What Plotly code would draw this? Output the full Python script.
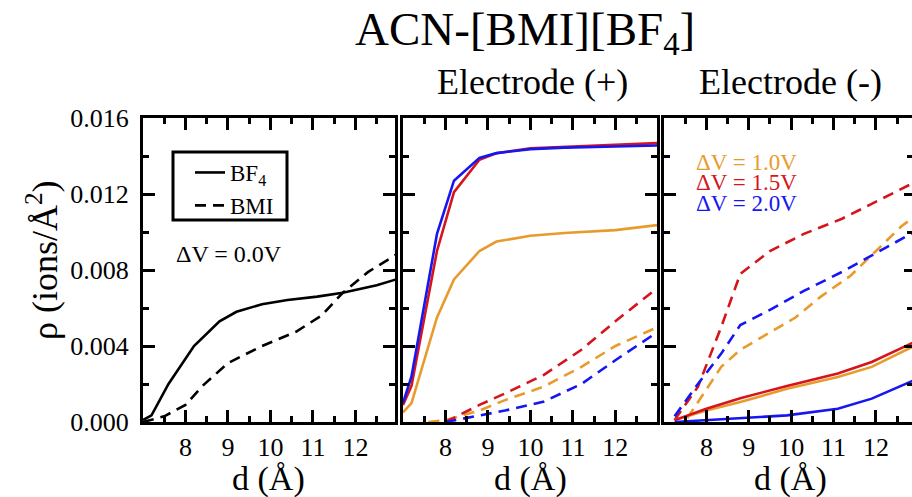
import plotly.graph_objects as go

# ---------------- data ----------------
# Panel 1: dV = 0.0 V
x0_bf4 = [7.0, 7.2, 7.6, 8.2, 8.8, 9.2, 9.8, 10.4, 11.1, 11.7, 12.5, 12.95]
y0_bf4 = [0.0001, 0.00035, 0.0020, 0.0040, 0.0053, 0.0058, 0.0062, 0.00642, 0.0066, 0.0068, 0.0072, 0.0075]
x0_bmi = [7.0, 7.5, 8.0, 8.4, 9.0, 9.8, 10.6, 11.2, 11.7, 12.3, 12.95]
y0_bmi = [0.0, 0.0003, 0.0009, 0.0019, 0.0031, 0.0040, 0.00475, 0.0056, 0.0068, 0.0079, 0.0088]

# Panel 2: Electrode (+)
xp_bf4 = [7.0, 7.2, 7.8, 8.2, 8.8, 9.2, 10.0, 10.8, 12.0, 13.0]
yp_bf4_10 = [0.0005, 0.0010, 0.0055, 0.0075, 0.0090, 0.0095, 0.0098, 0.00995, 0.0101, 0.01037]
yp_bf4_15 = [0.0009, 0.0019, 0.0090, 0.0121, 0.0138, 0.01415, 0.0144, 0.01448, 0.01458, 0.01468]
yp_bf4_20 = [0.0010, 0.0024, 0.0099, 0.0127, 0.0139, 0.01415, 0.01436, 0.01444, 0.0145, 0.01455]
xp_bmi = [7.6, 8.0, 8.8, 9.4, 10.3, 11.2, 12.0, 12.9]
yp_bmi_10 = [0.0, 0.0001, 0.0006, 0.00115, 0.00185, 0.0029, 0.0040, 0.0049]
yp_bmi_15 = [None, 0.0, 0.0009, 0.0015, 0.00246, 0.0038, 0.0053, 0.0069]
yp_bmi_20 = [None, 0.0, 0.00035, 0.0006, 0.00106, 0.0020, 0.00325, 0.0046]

# Panel 3: Electrode (-)
xn_bf4 = [7.25, 8.0, 8.8, 9.9, 11.1, 11.9, 12.9]
yn_bf4_10 = [0.0001, 0.0006, 0.00105, 0.00175, 0.00237, 0.0029, 0.0040]
yn_bf4_15 = [0.0001, 0.0007, 0.00125, 0.0019, 0.00255, 0.00316, 0.0042]
yn_bf4_20 = [0.0, 0.0001, 0.00018, 0.00035, 0.0007, 0.00123, 0.0022]
xn_bmi = [7.25, 7.8, 8.35, 8.8, 9.5, 10.3, 11.2, 12.0, 12.9]
yn_bmi_15 = [0.0001, 0.00185, 0.0050, 0.0078, 0.0090, 0.0099, 0.0107, 0.0116, 0.0126]
yn_bmi_20 = [0.0003, 0.0020, 0.0036, 0.0051, 0.0059, 0.0069, 0.0079, 0.0089, 0.0100]
xn_bmi_10 = [7.55, 8.0, 8.35, 8.8, 9.5, 10.1, 10.7, 11.4, 12.0, 12.6, 12.9]
yn_bmi_10 = [0.0002, 0.0017, 0.0029, 0.0038, 0.0047, 0.0055, 0.0066, 0.0077, 0.0090, 0.0103, 0.0108]

x_ticks = [8, 9, 10, 11, 12]
x_minor = [7.5, 8.5, 9.5, 10.5, 11.5, 12.5]
y_ticks = [0.0, 0.004, 0.008, 0.012, 0.016]
y_minor = [0.002, 0.006, 0.010, 0.014]
dv_labels = ["ΔV = 1.0V", "ΔV = 1.5V", "ΔV = 2.0V"]

ORANGE = "#E89B2C"
RED = "#D5141C"
BLUE = "#1616F2"
FONT = "'Liberation Serif', 'Times New Roman', Times, serif"
W, H = 912, 497

def fx(px):
    return px / W

def fy(py):
    return 1 - py / H

DASH = "11px,7px"
fig = go.Figure()

def line(x, y, xa, ya, color, dash=None, name=None, show=False, width=2.6):
    fig.add_trace(go.Scatter(
        x=x, y=y, xaxis=xa, yaxis=ya, mode="lines", name=name,
        showlegend=show, hoverinfo="skip", connectgaps=False,
        line=dict(color=color, width=width, dash=dash or "solid"),
    ))

# panel 1
line(x0_bf4, y0_bf4, "x", "y", "black", None, "BF<sub>4</sub>", True)
line(x0_bmi, y0_bmi, "x", "y", "black", DASH, "BMI", True)
# panel 2
line(xp_bmi, yp_bmi_10, "x2", "y2", ORANGE, DASH)
line(xp_bmi, yp_bmi_15, "x2", "y2", RED, DASH)
line(xp_bmi, yp_bmi_20, "x2", "y2", BLUE, DASH)
line(xp_bf4, yp_bf4_10, "x2", "y2", ORANGE)
line(xp_bf4, yp_bf4_15, "x2", "y2", RED)
line(xp_bf4, yp_bf4_20, "x2", "y2", BLUE)
# panel 3
line(xn_bmi_10, yn_bmi_10, "x3", "y3", ORANGE, DASH)
line(xn_bmi, yn_bmi_15, "x3", "y3", RED, DASH)
line(xn_bmi, yn_bmi_20, "x3", "y3", BLUE, DASH)
line(xn_bf4, yn_bf4_10, "x3", "y3", ORANGE)
line(xn_bf4, yn_bf4_15, "x3", "y3", RED)
line(xn_bf4, yn_bf4_20, "x3", "y3", BLUE)
# invisible trace for right-edge tick axis of panel 3
fig.add_trace(go.Scatter(x=[None], y=[None], xaxis="x3", yaxis="y4",
                         showlegend=False, hoverinfo="skip"))

tickfont = dict(family=FONT, size=26, color="black")

def xaxis(domain, rng, anchor):
    return dict(
        domain=domain, range=rng, anchor=anchor, automargin=False,
        showline=True, linewidth=3, linecolor="black", mirror="ticks",
        ticks="inside", ticklen=12, tickwidth=3, tickcolor="black",
        tickmode="array", tickvals=x_ticks, ticktext=[str(v) for v in x_ticks],
        tickfont=tickfont, showgrid=False, zeroline=False,
        minor=dict(ticks="inside", ticklen=6, tickwidth=2.5, tickcolor="black",
                   tickmode="array", tickvals=x_minor, showgrid=False),
    )

def yaxis(anchor, labels, mirror="ticks"):
    return dict(
        domain=[fy(422), fy(118)], range=[0, 0.016], anchor=anchor, automargin=False,
        showline=True, linewidth=3, linecolor="black", mirror=mirror,
        ticks="inside", ticklen=12, tickwidth=3, tickcolor="black",
        tickmode="array", tickvals=y_ticks, ticktext=[f"{v:.3f}" for v in y_ticks],
        showticklabels=labels, ticklabelstandoff=6,
        tickfont=tickfont, showgrid=False, zeroline=False,
        minor=dict(ticks="inside", ticklen=6, tickwidth=2.5, tickcolor="black",
                   tickmode="array", tickvals=y_minor, showgrid=False),
    )

layout = dict(
    width=W, height=H, margin=dict(l=0, r=0, t=0, b=0, autoexpand=False),
    paper_bgcolor="white", plot_bgcolor="white",
    font=dict(family=FONT, color="black"),
    xaxis=xaxis([fx(143), fx(395)], [7, 12.93], "y"),
    xaxis2=xaxis([fx(403), fx(657)], [7, 12.98], "y2"),
    xaxis3=xaxis([fx(664), 1.0], [7, 12.85], "y3"),
    yaxis=yaxis("x", True),
    yaxis2=yaxis("x2", False),
    yaxis3=yaxis("x3", False, mirror=False),
    yaxis4=dict(
        overlaying="y3", anchor="x3", side="right", range=[0, 0.016], automargin=False,
        showline=False, showgrid=False, zeroline=False, showticklabels=False,
        ticks="inside", ticklen=8, tickwidth=3, tickcolor="black",
        tickmode="array", tickvals=y_ticks,
        minor=dict(ticks="inside", ticklen=5, tickwidth=2.5, tickcolor="black",
                   tickmode="array", tickvals=y_minor),
    ),
    showlegend=True,
    legend=dict(
        x=fx(190), y=fy(151), xanchor="left", yanchor="top",
        borderwidth=0, bgcolor="rgba(0,0,0,0)",
        font=dict(family=FONT, size=23, color="black"),
        tracegroupgap=0, itemwidth=30,
    ),
    shapes=[dict(type="rect", xref="paper", yref="paper",
                 x0=fx(173), x1=fx(287), y0=fy(220), y1=fy(152),
                 line=dict(color="black", width=3))],
)
fig.update_layout(**layout)

def ann(text, x, y, size, color="black", xanchor="center", yanchor="middle", angle=0):
    fig.add_annotation(
        text=text, x=x, y=y, xref="paper", yref="paper", showarrow=False,
        xanchor=xanchor, yanchor=yanchor, textangle=angle,
        font=dict(family=FONT, size=size, color=color),
    )

ann("ACN-[BMI][BF<sub>4</sub>]", fx(525), fy(33), 47)
ann("Electrode (+)", fx(532), fy(82), 36)
ann("Electrode (-)", fx(790), fy(82), 36)
for cx in (268, 530, 790):
    ann("d (Å)", fx(cx), fy(479), 34)
ann("ρ (ions/Å<sup>2</sup>)", fx(42), fy(260), 36, angle=-90)
ann("ΔV = 0.0V", fx(174), fy(254), 24, xanchor="left")
for lbl, col, py in zip(dv_labels, [ORANGE, RED, BLUE], [162, 182.5, 203]):
    ann(lbl, fx(694), fy(py), 23, color=col, xanchor="left")

fig.write_html("out.html", config={"displayModeBar": False},
               post_script="document.body.style.margin='0px';document.body.style.overflow='hidden';")
